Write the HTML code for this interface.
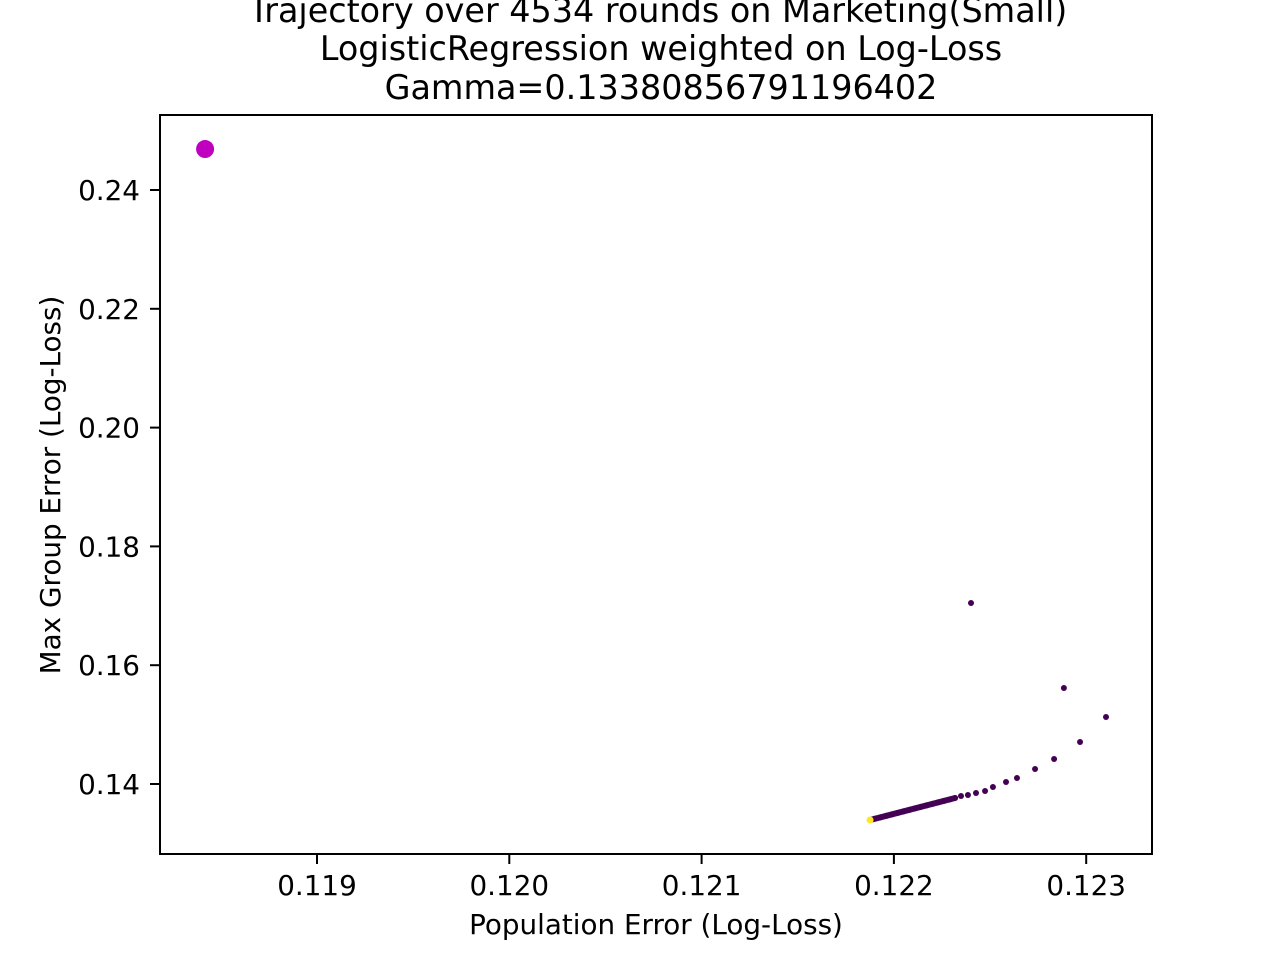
<!DOCTYPE html>
<html><head><meta charset="utf-8"><style>
body{margin:0;background:#fff}
svg text{font-family:"DejaVu Sans","Liberation Sans",sans-serif;fill:#000}
</style></head><body>
<svg id="c" width="1280" height="960">
<g id="title" font-size="33.4" text-anchor="middle">
<text x="658" y="22">Trajectory over 4534 rounds on Marketing(Small)</text>
<text x="661" y="60">LogisticRegression weighted on Log-Loss</text>
<text x="661" y="99">Gamma=0.13380856791196402</text>
</g>
<g id="plot"></g>
<text x="656" y="934" font-size="27.8" text-anchor="middle">Population Error (Log-Loss)</text>
<text transform="translate(60,485) rotate(-90)" font-size="27.8" text-anchor="middle">Max Group Error (Log-Loss)</text>
</svg>
<script>
const xTicks=[0.119,0.120,0.121,0.122,0.123];
const yTicks=[0.14,0.16,0.18,0.20,0.22,0.24];
const trajX=[0.122401,0.122884,0.123103,0.122968,0.122833,0.122734,0.12264,0.122583,0.122515,0.122474,0.122427,0.122385,0.122349,0.122318,
0.12229,0.12226,0.12223,0.12220,0.12217,0.12214,0.12211,0.12208,0.12205,0.12202,0.12199,0.12196,0.12193,0.12190];
const trajY=[0.17047,0.15616,0.15128,0.14707,0.14421,0.14253,0.14101,0.14034,0.13949,0.13882,0.13848,0.13815,0.13798,0.13764,
0.13740,0.13715,0.13690,0.13665,0.13640,0.13614,0.13589,0.13564,0.13539,0.13514,0.13489,0.13464,0.13439,0.13414];
const finalPt=[0.121876,0.13394];
const startPt=[0.118418,0.2469];
const L=160,R=1152,T=115,B=854;
const sx=v=>317+(v-0.119)*192300;
const sy=v=>784-(v-0.14)*5940;
const NS='http://www.w3.org/2000/svg';
const g=document.getElementById('plot');
function mk(t,a){const e=document.createElementNS(NS,t);for(const k in a)e.setAttribute(k,a[k]);g.appendChild(e);return e;}
xTicks.forEach(v=>{const x=sx(v);
mk('line',{x1:x,x2:x,y1:B,y2:B+10,stroke:'#000','stroke-width':2});
const t=mk('text',{x:x,y:895,'font-size':27.8,'text-anchor':'middle'});t.textContent=v.toFixed(3);

});
yTicks.forEach(v=>{const y=sy(v);
mk('line',{x1:L-10,x2:L,y1:y,y2:y,stroke:'#000','stroke-width':2});
const t=mk('text',{x:140,y:y+10,'font-size':27.8,'text-anchor':'end'});t.textContent=v.toFixed(2);

});
const ln=mk('line',{x1:sx(trajX[13]),y1:sy(trajY[13]),x2:sx(finalPt[0]),y2:sy(finalPt[1]),stroke:'#46085c','stroke-width':6,'stroke-linecap':'round'});


trajX.forEach((v,i)=>{const c=mk('circle',{cx:sx(v),cy:sy(trajY[i]),r:3,fill:'#440154'});

});
const f=mk('circle',{cx:sx(finalPt[0]),cy:sy(finalPt[1]),r:3.5,fill:'#fde725'});


const s=mk('circle',{cx:sx(startPt[0]),cy:sy(startPt[1]),r:9,fill:'#bf00bf'});


const fr=mk('rect',{x:L,y:T,width:R-L,height:B-T,fill:'none',stroke:'#000','stroke-width':2});


</script>
</body></html>
